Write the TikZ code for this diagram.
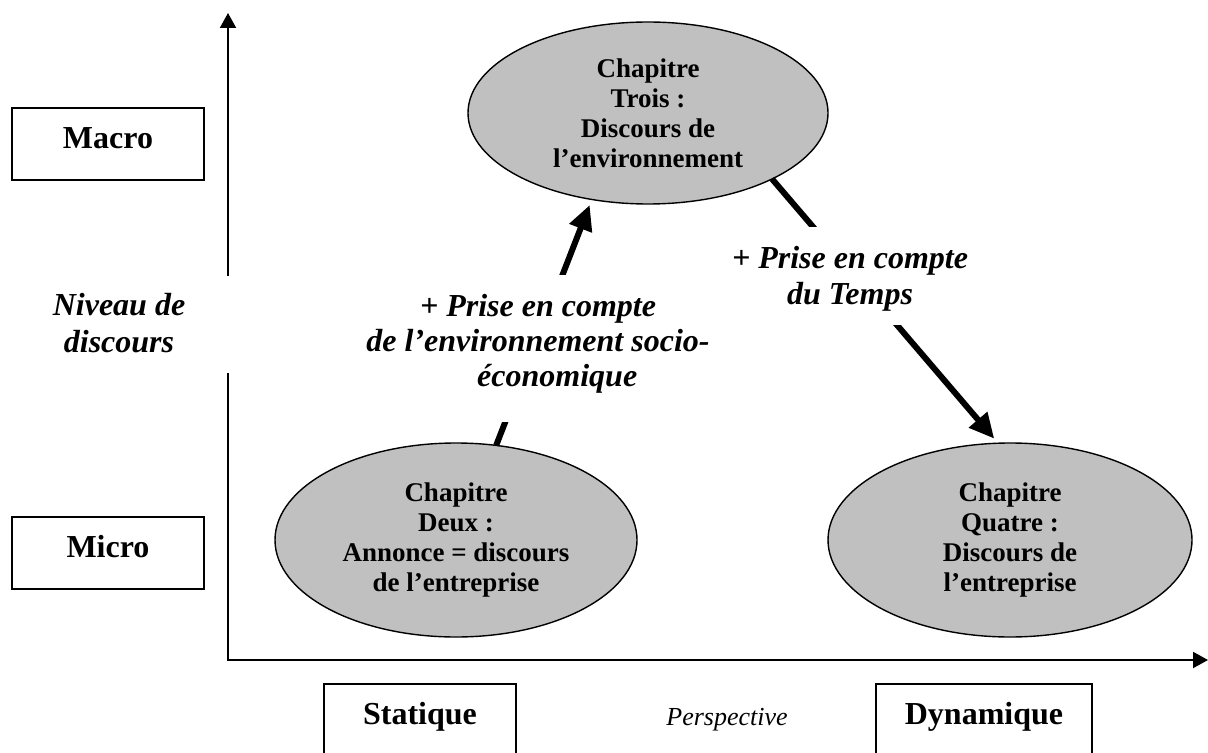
\documentclass[tikz,border=0pt]{standalone}
\usepackage{fontspec}
\setmainfont{Liberation Serif}
\usetikzlibrary{arrows.meta,shapes.geometric}
\definecolor{chapfill}{RGB}{192,192,192}

\begin{document}
\begin{tikzpicture}[x=0.5pt,y=-0.5pt,
  axis/.style={line width=1pt,{Triangle[length=7.5pt,width=8pt]}-{Triangle[length=7.5pt,width=8pt]}},
  levelbox/.style={draw,line width=1pt,rectangle,inner sep=0pt,
    minimum width=96pt,minimum height=36pt,
    font=\fontsize{16}{19}\selectfont\bfseries,text height=11pt,text depth=6.5pt},
  chapter/.style={ellipse,draw,line width=0.7pt,fill=chapfill,inner sep=0pt,outer sep=0pt,
    align=center,font=\fontsize{13.5}{15}\selectfont\bfseries},
  flow/.style={line width=3pt,-{Triangle[length=12.5pt,width=11.5pt]},shorten >=3pt},
  mask/.style={fill=white,draw=none,inner sep=0pt},
  note/.style={align=center,inner sep=0pt,anchor=north,font=\fontsize{16}{18}\selectfont\bfseries\itshape},
]
\useasboundingbox (0,0) rectangle (1208,753);
\clip (0,0) rectangle (1208,753);

% axes
\coordinate (ytip) at (228,13);
\coordinate (O) at (228,660);
\coordinate (xtip) at (1208,660);
\draw[axis] (ytip) -- (O) -- (xtip);

% level and perspective boxes
\node[levelbox] (macro) at (108,144) {Macro};
\node[levelbox] (micro) at (108,552.5) {Micro};
\node[levelbox] (statique) at (420,720) {Statique};
\node[levelbox,minimum width=108pt] (dynamique) at (984,720) {Dynamique};
\node[anchor=base,font=\fontsize{13}{15}\selectfont\itshape] (perspective) at (727,725) {Perspective};

% vertical axis title on a white ground
\node[mask,minimum width=104pt,minimum height=48.5pt] (niveaumask) at (129,324.5) {};
\node[note,font=\fontsize{16}{18.5}\selectfont\bfseries\itshape] (niveau) at (119,293) {Niveau de\\discours};

% chapters
\node[chapter,minimum width=180pt,minimum height=91pt] (trois) at (648,113)
  {Chapitre\\Trois :\\Discours de\\l’environnement};
\node[chapter,minimum width=181pt,minimum height=97pt] (deux) at (456,540)
  {Chapitre\\Deux :\\Annonce = discours\\de l’entreprise};
\node[chapter,minimum width=182pt,minimum height=97pt] (quatre) at (1010,540)
  {Chapitre\\Quatre :\\Discours de\\l’entreprise};

% transitions between chapters
\draw[flow] (deux.67.7) -- (trois.237.3);
\draw[flow] (trois.332.7) -- (quatre.97.7);

% transition labels
\node[mask,minimum width=180pt,minimum height=73.5pt] (envmask) at (537,348.5) {};
\node[note,font=\fontsize{16}{17.5}\selectfont\bfseries\itshape] (envlabel) at (538,294)
  {+ Prise en compte\\de l’environnement socio-\\\hspace*{1.2em}économique};
\node[mask,minimum width=122.5pt,minimum height=49pt] (tempsmask) at (852,276) {};
\node[note] (tempslabel) at (850,246) {+ Prise en compte\\du Temps};
\end{tikzpicture}
\end{document}
